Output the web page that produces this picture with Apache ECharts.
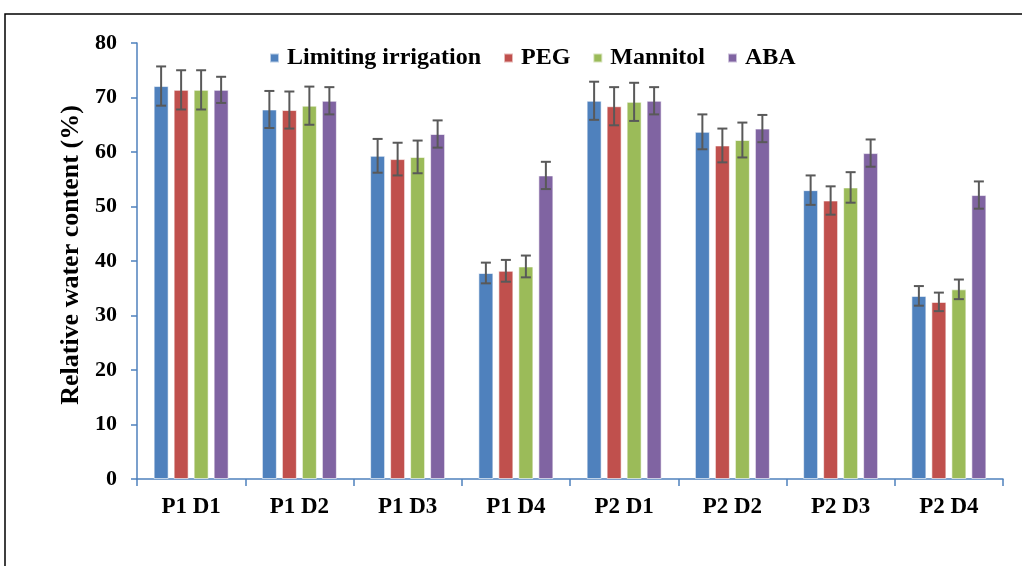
<!DOCTYPE html>
<html>
<head>
<meta charset="utf-8">
<script src="https://cdn.jsdelivr.net/npm/echarts@6/dist/echarts.min.js"></script>
<style>html,body{margin:0;padding:0;background:#fff;}#c{width:1022px;height:566px;}</style>
</head>
<body>
<div id="c"></div>
<script>
var categories = ['P1 D1','P1 D2','P1 D3','P1 D4','P2 D1','P2 D2','P2 D3','P2 D4'];
var seriesNames = ['Limiting irrigation','PEG','Mannitol','ABA'];
var limiting = [72.1, 67.8, 59.3, 37.8, 69.4, 63.7, 53.0, 33.6];
var peg      = [71.4, 67.7, 58.7, 38.2, 68.4, 61.2, 51.1, 32.5];
var mannitol = [71.4, 68.5, 59.1, 39.0, 69.2, 62.2, 53.5, 34.8];
var aba      = [71.4, 69.4, 63.3, 55.7, 69.4, 64.3, 59.8, 52.1];
var limitingErr = [3.6, 3.4, 3.1, 1.9, 3.5, 3.2, 2.7, 1.8];
var pegErr      = [3.6, 3.4, 3.0, 2.0, 3.5, 3.1, 2.6, 1.7];
var mannitolErr = [3.6, 3.5, 3.0, 2.0, 3.5, 3.2, 2.8, 1.8];
var abaErr      = [2.4, 2.5, 2.5, 2.5, 2.5, 2.5, 2.5, 2.5];
var yTicks = [0, 10, 20, 30, 40, 50, 60, 70, 80];

var values = [limiting, peg, mannitol, aba];
var errs = [limitingErr, pegErr, mannitolErr, abaErr];
var colors = ['#4F81BD', '#C0504D', '#9BBB59', '#8064A2'];
var BAR_W = 15, BAR_GAP = 5;
var font = '"Liberation Serif","Times New Roman",serif';

var chart = echarts.init(document.getElementById('c'), null, {renderer: 'canvas'});
var series = [];
values.forEach(function (vals, si) {
  series.push({
    name: seriesNames[si],
    type: 'bar',
    data: vals,
    barWidth: BAR_W,
    barGap: (BAR_GAP / BAR_W * 100) + '%',
    itemStyle: {color: colors[si], borderColor: 'rgba(255,255,255,0.6)', borderWidth: 1},
    z: 2
  });
});
values.forEach(function (vals, si) {
  var data = vals.map(function (v, i) { return [i, v, errs[si][i]]; });
  series.push({
    name: seriesNames[si] + ' err',
    type: 'custom',
    data: data,
    z: 5,
    silent: true,
    tooltip: {show: false},
    renderItem: function (params, api) {
      var idx = api.value(0), v = api.value(1), e = api.value(2);
      var off = (si - 1.5) * (BAR_W + BAR_GAP);
      var hi = api.coord([idx, v + e]);
      var lo = api.coord([idx, v - e]);
      var x = hi[0] + off;
      var cap = 5;
      var st = {stroke: '#595959', lineWidth: 2};
      return {type: 'group', children: [
        {type: 'line', shape: {x1: x, y1: hi[1], x2: x, y2: lo[1]}, style: st},
        {type: 'line', shape: {x1: x - cap, y1: hi[1], x2: x + cap, y2: hi[1]}, style: st},
        {type: 'line', shape: {x1: x - cap, y1: lo[1], x2: x + cap, y2: lo[1]}, style: st}
      ]};
    }
  });
});

chart.setOption({
  animation: false,
  backgroundColor: '#fff',
  graphic: [{
    type: 'rect', shape: {x: 5, y: 14, width: 1040, height: 600},
    style: {fill: 'none', stroke: '#000', lineWidth: 1.5}, z: 100
  }],
  legend: {
    data: seriesNames,
    top: 41,
    left: 264,
    itemWidth: 9,
    itemHeight: 9,
    itemGap: 22,
    icon: 'rect',
    textStyle: {fontFamily: font, fontWeight: 'bold', fontSize: 24, color: '#000', padding: [0, 0, 0, 3]}
  },
  grid: {left: 137, right: 19, top: 43, bottom: 87, containLabel: false},
  xAxis: {
    type: 'category',
    data: categories,
    boundaryGap: true,
    axisLine: {lineStyle: {color: '#4F81BD', width: 1.5}},
    axisTick: {show: true, length: 7, lineStyle: {color: '#4F81BD', width: 1.5}},
    axisLabel: {fontFamily: font, fontWeight: 'bold', fontSize: 23, color: '#000', margin: 17}
  },
  yAxis: {
    type: 'value',
    min: yTicks[0],
    max: yTicks[yTicks.length - 1],
    interval: yTicks[1] - yTicks[0],
    name: 'Relative water content (%)',
    nameLocation: 'middle',
    nameGap: 52,
    nameTextStyle: {fontFamily: font, fontWeight: 'bold', fontSize: 26, color: '#000', padding: [0, 0, 0, 12]},
    axisLine: {show: true, lineStyle: {color: '#4F81BD', width: 1.5}},
    axisTick: {show: true, length: 6, lineStyle: {color: '#4F81BD', width: 1.5}},
    splitLine: {show: false},
    axisLabel: {fontFamily: font, fontWeight: 'bold', fontSize: 22, color: '#000', margin: 20}
  },
  series: series
});
</script>
</body>
</html>
